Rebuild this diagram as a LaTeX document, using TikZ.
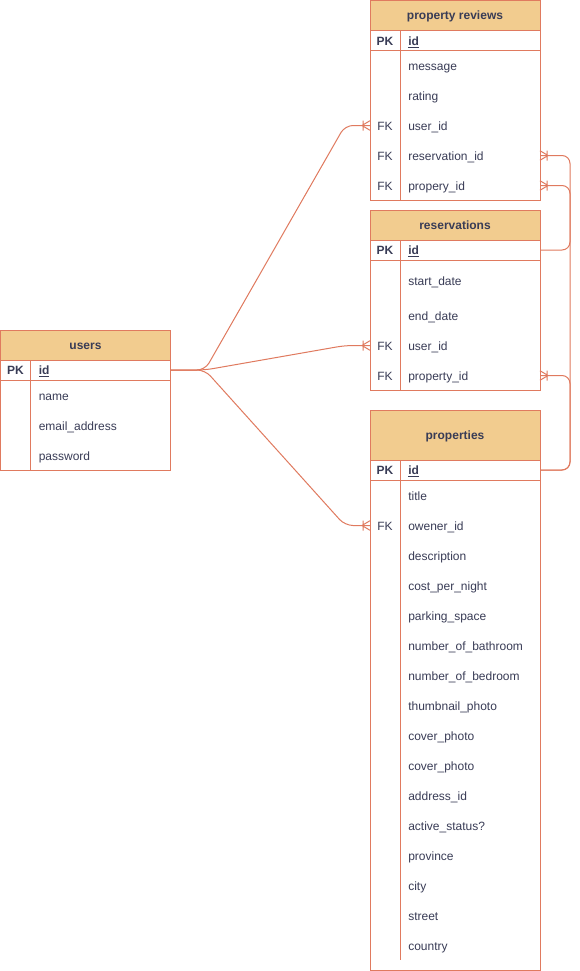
\documentclass[tikz,border=0pt]{standalone}
\usepackage{fontspec}
\setmainfont{Liberation Sans}
\usetikzlibrary{decorations.markings,calc}
\definecolor{erstroke}{HTML}{E07A5F}
\definecolor{erfill}{HTML}{F2CC8F}
\definecolor{ertext}{HTML}{393C56}
\tikzset{
  erfont/.style={font=\fontsize{9}{11}\selectfont, text=ertext},
  rowbox/.style={rectangle, minimum width=127.5pt, minimum height=22.5pt, inner sep=0pt, outer sep=0pt},
  keytxt/.style={erfont, inner sep=0pt},
  fieldtxt/.style={erfont, inner sep=0pt},
  hdrbox/.style={rectangle, draw=erstroke, fill=erfill, line width=0.75pt,
    minimum width=127.5pt, inner sep=0pt, outer sep=0pt, text height=8pt, text depth=2pt,
    text=ertext, font=\fontsize{9}{11}\selectfont\bfseries},
  frame/.style={draw=erstroke, line width=0.75pt},
  crowfoot/.style={decoration={markings, mark=at position 1 with {
      \draw[erstroke, line width=0.75pt] (-6pt,0pt) -- (0pt,3.6pt) (-6pt,0pt) -- (0pt,-3.6pt)
        (-5.25pt,-3.75pt) -- (-5.25pt,3.75pt);}},
      postaction={decorate}},
  rel/.style={draw=erstroke, line width=0.75pt, rounded corners=6pt, crowfoot},
}
\newcommand{\ERrow}[5]{%
  \node[rowbox] (#1) at (#2+85,#3) {};
  \node[keytxt, anchor=base] (#1-k) at (#2+15,#3+4.5) {#4};
  \node[fieldtxt, anchor=base west] (#1-f) at (#2+38,#3+4.5) {#5};
}
\newcommand{\PKtxt}{\textbf{PK}}
\newcommand{\IDtxt}{\textbf{\underline{id}}}
\begin{document}
\begin{tikzpicture}[x=0.75pt,y=-0.75pt]
\fill[white] (0,0) rectangle (579,971);
\useasboundingbox (0,0) rectangle (579,971);

% ---------- property reviews ----------
\draw[frame] (370,0.5) rectangle (540,200.5);
\node[hdrbox, minimum height=22.5pt, anchor=north west] (pr) at (370,0.5) {property reviews};
\draw[frame] (370,50.5) -- (540,50.5);
\draw[frame] (400,30.5) -- (400,200.5);
\ERrow{pr-id}{370}{40.5}{\PKtxt}{\IDtxt}
\ERrow{pr-msg}{370}{65.5}{}{message}
\ERrow{pr-rating}{370}{95.5}{}{rating}
\ERrow{pr-user}{370}{125.5}{FK}{user\_id}
\ERrow{pr-res}{370}{155.5}{FK}{reservation\_id}
\ERrow{pr-prop}{370}{185.5}{FK}{propery\_id}

% ---------- reservations ----------
\draw[frame] (370,210) rectangle (540,390);
\node[hdrbox, minimum height=22.5pt, anchor=north west] (res) at (370,210) {reservations};
\draw[frame] (370,260) -- (540,260);
\draw[frame] (400,240) -- (400,390);
\ERrow{r-id}{370}{250}{\PKtxt}{\IDtxt}
\ERrow{r-start}{370}{280.5}{}{start\_date}
\ERrow{r-end}{370}{315.5}{}{end\_date}
\ERrow{r-user}{370}{345.5}{FK}{user\_id}
\ERrow{r-prop}{370}{375.5}{FK}{property\_id}

% ---------- users ----------
\draw[frame] (0.5,330) rectangle (170.5,470);
\node[hdrbox, minimum height=22.5pt, anchor=north west] (usr) at (0.5,330) {users};
\draw[frame] (0.5,380) -- (170.5,380);
\draw[frame] (30.5,360) -- (30.5,470);
\ERrow{u-id}{0.5}{370}{\PKtxt}{\IDtxt}
\ERrow{u-name}{0.5}{395.5}{}{name}
\ERrow{u-email}{0.5}{425.5}{}{email\_address}
\ERrow{u-pass}{0.5}{455.5}{}{password}

% ---------- properties ----------
\draw[frame] (370,410) rectangle (540,970);
\node[hdrbox, minimum height=37.5pt, anchor=north west] (prop) at (370,410) {properties};
\draw[frame] (370,480) -- (540,480);
\draw[frame] (400,460) -- (400,960);
\ERrow{p-id}{370}{470}{\PKtxt}{\IDtxt}
\ERrow{p-title}{370}{495.5}{}{title}
\ERrow{p-owner}{370}{525.5}{FK}{owener\_id}
\ERrow{p-desc}{370}{555.5}{}{description}
\ERrow{p-cost}{370}{585.5}{}{cost\_per\_night}
\ERrow{p-park}{370}{615.5}{}{parking\_space}
\ERrow{p-bath}{370}{645.5}{}{number\_of\_bathroom}
\ERrow{p-bed}{370}{675.5}{}{number\_of\_bedroom}
\ERrow{p-thumb}{370}{705.5}{}{thumbnail\_photo}
\ERrow{p-cover}{370}{735.5}{}{cover\_photo}
\ERrow{p-coverb}{370}{765.5}{}{cover\_photo}
\ERrow{p-addr}{370}{795.5}{}{address\_id}
\ERrow{p-active}{370}{825.5}{}{active\_status?}
\ERrow{p-prov}{370}{855.5}{}{province}
\ERrow{p-city}{370}{885.5}{}{city}
\ERrow{p-street}{370}{915.5}{}{street}
\ERrow{p-country}{370}{945.5}{}{country}

% ---------- connectors ----------
\coordinate (split) at (205,370);
\coordinate (join) at (345,0);
\coordinate (bus) at (570,0);
\draw[rel] (u-id.east) -- (split) -- (join |- pr-user.west) -- (pr-user.west);
\draw[rel] (u-id.east) -- (split) -- (join |- r-user.west) -- (r-user.west);
\draw[rel] (u-id.east) -- (split) -- (join |- p-owner.west) -- (p-owner.west);

\draw[rel] (r-id.east) -- (r-id.east -| bus) -- (pr-res.east -| bus) -- (pr-res.east);
\draw[rel] (p-id.east) -- (p-id.east -| bus) -- (pr-prop.east -| bus) -- (pr-prop.east);
\draw[rel] (p-id.east) -- (p-id.east -| bus) -- (r-prop.east -| bus) -- (r-prop.east);
\end{tikzpicture}
\end{document}
